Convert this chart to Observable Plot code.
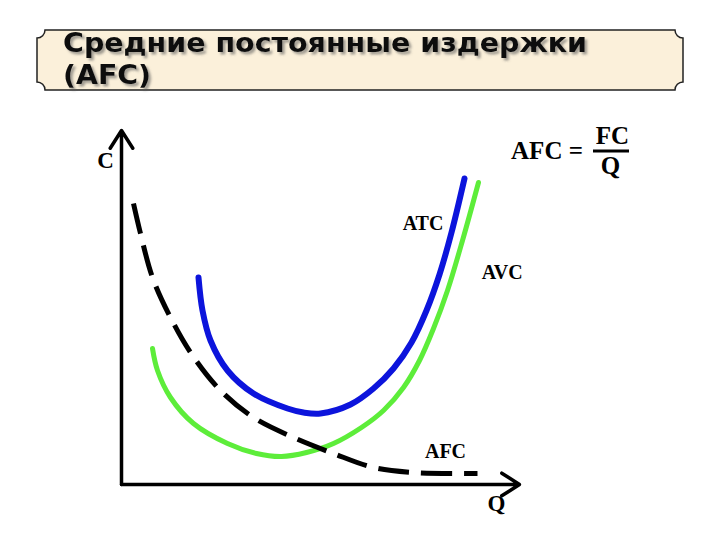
<!DOCTYPE html>
<html>
<head>
<meta charset="utf-8">
<script src="https://cdn.jsdelivr.net/npm/d3@7"></script>
<script src="https://cdn.jsdelivr.net/npm/@observablehq/plot@0.6"></script>
<style>
  html, body { margin: 0; padding: 0; background: #fff; }
  #title { position: relative; width: 720px; height: 105px; }
  #title svg { position: absolute; left: 0; top: 0; }
  #chart svg { display: block; }
</style>
</head>
<body>
<div id="title">
  <svg width="720" height="105" xmlns="http://www.w3.org/2000/svg">
    <defs>
      <filter id="shadow" x="-5%" y="-20%" width="110%" height="150%">
        <feDropShadow dx="2.5" dy="2.5" stdDeviation="0.9" flood-color="#555" flood-opacity="0.55"/>
      </filter>
    </defs>
    <path d="M45,30 L675,30 A8,8 0 0 0 683,38 L683,82 A8,8 0 0 0 675,90 L45,90 A8,8 0 0 0 37,82 L37,38 A8,8 0 0 0 45,30 Z"
          fill="#fbf0da" stroke="#222" stroke-width="1.5"/>
    <g filter="url(#shadow)" font-family="DejaVu Sans" font-weight="bold" font-size="27" fill="#111">
      <text x="63" y="52" textLength="524" lengthAdjust="spacingAndGlyphs">Средние постоянные издержки</text>
      <text x="63" y="84" textLength="88" lengthAdjust="spacingAndGlyphs">(AFC)</text>
    </g>
  </svg>
</div>
<div id="chart"></div>
<script>
// Curve data (Q = output, C = cost)
const afcQ = [12, 19, 31, 49, 71, 99, 132, 172, 212, 252, 292, 342, 356];
const afcC = [281, 251, 207, 167, 129, 94, 67, 47, 31, 17, 12, 11, 11];

const atcQ = [77, 81, 89, 106, 132, 166, 182, 199, 229, 252, 272, 290, 305, 318, 330, 343];
const atcC = [207, 174, 144, 114, 91, 76, 72, 71, 80, 96, 116, 142, 174, 210, 252, 306];

const avcQ = [31, 36, 49, 72, 106, 135, 160, 185, 212, 240, 262, 282, 298, 312, 326, 341, 357];
const avcC = [136, 114, 87, 61, 41, 31, 28, 32, 41, 57, 74, 97, 124, 156, 194, 244, 302];

// Axis extents
const qMax = 398;
const cMax = 354;

// Text labels
const labelText = ["C", "ATC", "AVC", "AFC", "Q"];
const labelQ = [-16, 301.5, 380.7, 324, 375];
const labelC = [324, 260.7, 212.3, 32.5, -19];
const labelSize = [23, 20, 20, 20, 23];

// Formula AFC = FC / Q
const formulaText = ["AFC =", "FC", "Q"];
const formulaQ = [425.5, 491, 489];
const formulaC = [334, 349, 319];
const fracBar = {q1: 472, q2: 508, c: 333.5};

const zip = (xs, ys) => xs.map((x, i) => ({x, y: ys[i]}));
const afc = zip(afcQ, afcC);
const atc = zip(atcQ, atcC);
const avc = zip(avcQ, avcC);
const labels = labelText.map((t, i) => ({t, x: labelQ[i], y: labelC[i], s: labelSize[i]}));
const formula = formulaText.map((t, i) => ({t, x: formulaQ[i], y: formulaC[i]}));

const serif = "Liberation Serif, Times New Roman, serif";

const chart = Plot.plot({
  width: 720,
  height: 435,
  x: {domain: [0, qMax], range: [121, 519], axis: null},
  y: {domain: [0, cMax], range: [379, 25], axis: null},
  style: {background: "#fff"},
  marks: [
    Plot.arrow([{x1: 0, y1: 0, x2: 0, y2: cMax}, {x1: 0, y1: 0, x2: qMax, y2: 0}], {
      x1: "x1", y1: "y1", x2: "x2", y2: "y2",
      stroke: "#000", strokeWidth: 3.5, headLength: 9, headAngle: 65
    }),
    Plot.line(avc, {x: "x", y: "y", curve: "catmull-rom", stroke: "#5ded3a", strokeWidth: 5}),
    Plot.line(atc, {x: "x", y: "y", curve: "catmull-rom", stroke: "#0c14dc", strokeWidth: 6}),
    Plot.line(afc, {x: "x", y: "y", curve: "catmull-rom", stroke: "#000", strokeWidth: 5,
      strokeDasharray: "31,12", strokeLinecap: "butt"}),
    ...labels.map(d => Plot.text([d], {x: "x", y: "y", text: "t", fontSize: d.s, fontWeight: "bold",
      fontFamily: serif, fill: "#000"})),
    Plot.text(formula, {x: "x", y: "y", text: "t", fontSize: 25, fontWeight: "bold",
      fontFamily: serif, fill: "#000"}),
    Plot.ruleY([fracBar], {y: "c", x1: "q1", x2: "q2", stroke: "#000", strokeWidth: 3})
  ]
});
document.getElementById("chart").appendChild(chart);
</script>
</body>
</html>
